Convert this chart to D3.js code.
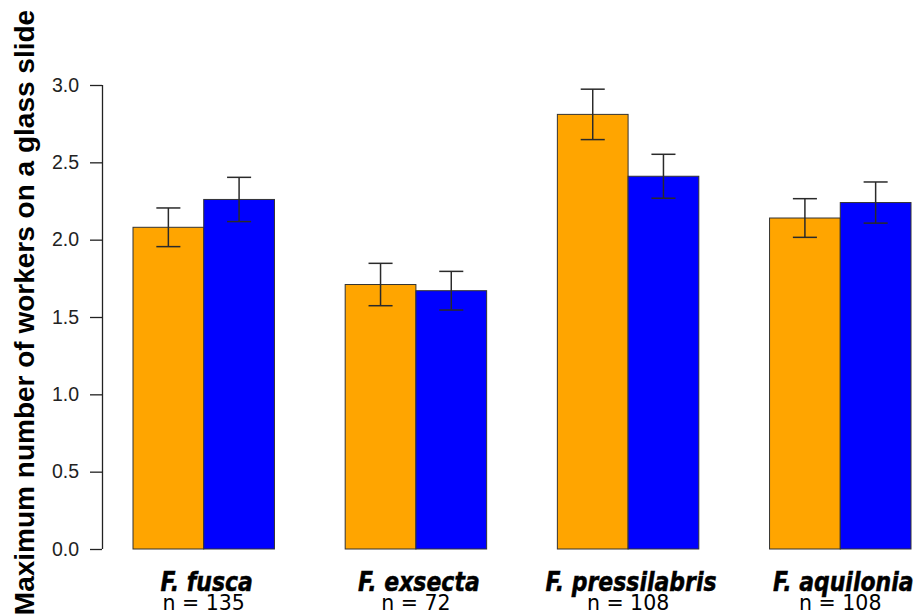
<!DOCTYPE html>
<html>
<head>
<meta charset="utf-8">
<script src="https://cdn.jsdelivr.net/npm/d3@7"></script>
<style>
  html, body { margin: 0; padding: 0; background: #fff; }
  svg { display: block; }
</style>
</head>
<body>
<svg id="chart" width="916" height="614"></svg>
<script>
// Species and sample sizes
const species = ["F. fusca", "F. exsecta", "F. pressilabris", "F. aquilonia"];
const sampleSizes = [135, 72, 108, 108];

// Mean maximum number of workers on a glass slide, two treatments
const meansA = [2.08, 1.71, 2.81, 2.14];
const meansB = [2.26, 1.67, 2.41, 2.24];

// Standard errors
const seA = [0.125, 0.137, 0.163, 0.125];
const seB = [0.143, 0.125, 0.142, 0.133];

// Y axis ticks
const yTicks = [0.0, 0.5, 1.0, 1.5, 2.0, 2.5, 3.0];

const colors = ["#FFA500", "#0000FF"];

const svg = d3.select("#chart");

// Bar positions in barplot units: each bar is 1 unit wide, groups separated by 1 unit
const x = d3.scaleLinear().domain([1, 12]).range([133, 911]);
const y = d3.scaleLinear().domain([0, 3]).range([549, 85]);

const bars = [];
species.forEach((s, g) => {
  [meansA, meansB].forEach((m, j) => {
    const se = j === 0 ? seA[g] : seB[g];
    const left = 1 + g * 3 + j;
    bars.push({ g, j, left, value: m[g], se });
  });
});

// Bars
svg.append("g").selectAll("rect").data(bars).join("rect")
  .attr("x", d => x(d.left))
  .attr("width", d => x(d.left + 1) - x(d.left))
  .attr("y", d => y(d.value))
  .attr("height", d => y(0) - y(d.value))
  .attr("fill", d => colors[d.j])
  .attr("stroke", "#333")
  .attr("stroke-width", 1);

// Error bars
const capHalf = 0.17;
const eb = svg.append("g").attr("stroke", "#2a2a2a").attr("stroke-width", 1.5).attr("fill", "none");
bars.forEach(d => {
  const cx = x(d.left + 0.5);
  const hi = y(d.value + d.se), lo = y(d.value - d.se);
  eb.append("line").attr("x1", cx).attr("x2", cx).attr("y1", hi).attr("y2", lo);
  eb.append("line").attr("x1", x(d.left + 0.5 - capHalf)).attr("x2", x(d.left + 0.5 + capHalf)).attr("y1", hi).attr("y2", hi);
  eb.append("line").attr("x1", x(d.left + 0.5 - capHalf)).attr("x2", x(d.left + 0.5 + capHalf)).attr("y1", lo).attr("y2", lo);
});

// Y axis
const axis = d3.axisLeft(y).tickValues(yTicks).tickFormat(d3.format(".1f")).tickSize(12).tickPadding(11);
const ag = svg.append("g").attr("transform", "translate(102,0)").call(axis);
ag.select(".domain").attr("stroke", "#222").attr("stroke-width", 1.3).attr("d", `M0.5,${y(0)}V${y(3)}`);
ag.selectAll(".tick line").attr("stroke", "#222").attr("stroke-width", 1.3);
ag.selectAll(".tick text")
  .attr("fill", "#222")
  .style("font-family", "'Liberation Sans', Arial, sans-serif")
  .style("font-size", "19.5px");

// Y axis title
svg.append("text")
  .attr("transform", `translate(33.5,${312.5}) rotate(-90)`)
  .attr("text-anchor", "middle")
  .style("font-family", "'Liberation Sans', Arial, sans-serif")
  .style("font-weight", "bold")
  .style("font-size", "28px")
  .attr("fill", "#000")
  .text("Maximum number of workers on a glass slide");

// Category labels with sample sizes underneath
species.forEach((s, g) => {
  const cx = x(2 + g * 3);
  svg.append("text")
    .attr("transform", `translate(${cx + 3},591) scale(0.83,1)`)
    .attr("text-anchor", "middle")
    .style("font-family", "'DejaVu Sans', Verdana, sans-serif")
    .style("font-weight", "bold")
    .style("font-style", "italic")
    .style("font-size", "26.5px")
    .attr("fill", "#000")
    .attr("stroke", "#000")
    .attr("stroke-width", 0.5)
    .text(s);
  svg.append("text")
    .attr("x", cx)
    .attr("y", 610)
    .attr("text-anchor", "middle")
    .style("font-family", "'DejaVu Sans', Verdana, sans-serif")
    .style("font-size", "20.5px")
    .attr("fill", "#000")
    .text(`n = ${sampleSizes[g]}`);
});
</script>
</body>
</html>
